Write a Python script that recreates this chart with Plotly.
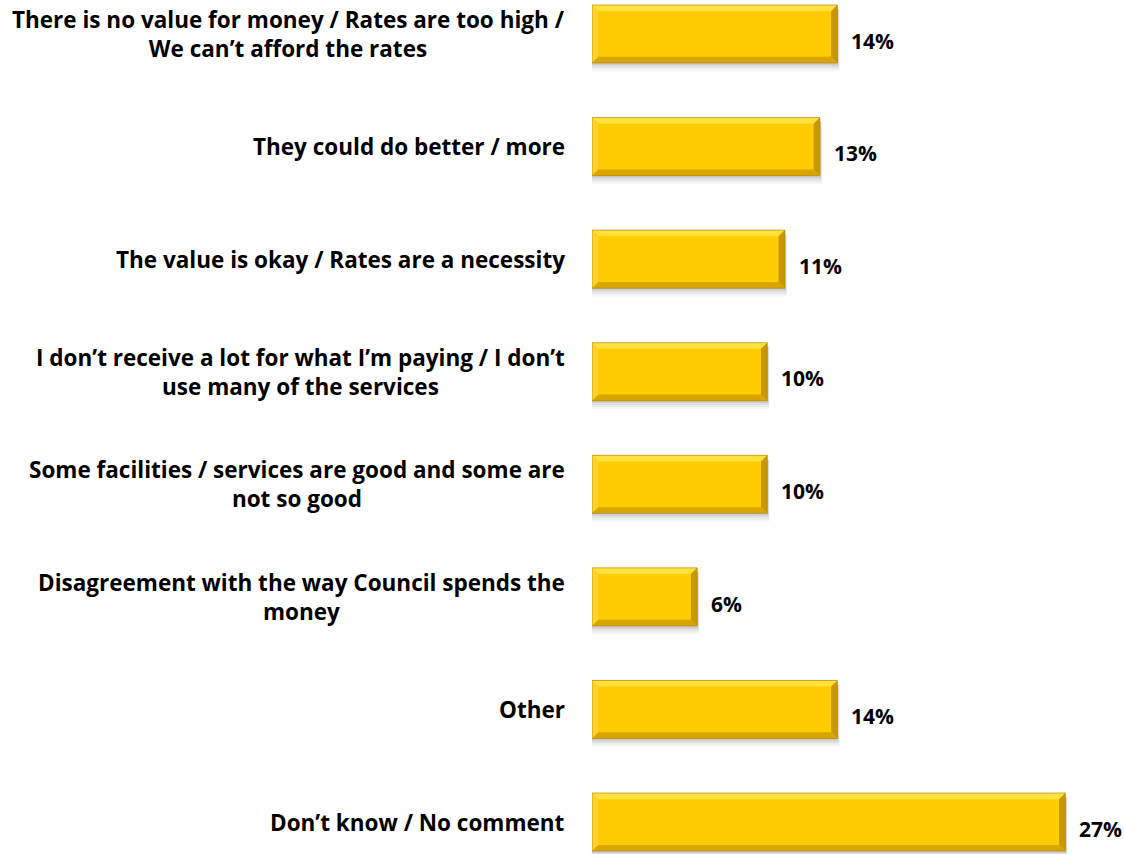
import plotly.graph_objects as go

categories = [
    "There is no value for money / Rates are too high /<br>We can\u2019t afford the rates",
    "They could do better / more",
    "The value is okay / Rates are a necessity",
    "I don\u2019t receive a lot for what I\u2019m paying / I don\u2019t<br>use many of the services",
    "Some facilities / services are good and some are<br>not so good",
    "Disagreement with the way Council spends the<br>money",
    "Other",
    "Don\u2019t know / No comment",
]
values = [14, 13, 11, 10, 10, 6, 14, 27]

FONT = "Open Sans"
BODY = "#FFCC00"
TOP = "#FFE13F"
LEFT = "#FFD42A"
BOTTOM = "#D9A600"
RIGHT = "#C99700"

positions = list(range(len(categories)))
half = 0.258          # half bar thickness in category units
bev_y = 0.055         # bevel depth (vertical)
bev_x = 0.36          # bevel depth (horizontal, in % units)

fig = go.Figure()
fig.add_trace(go.Bar(
    x=values, y=positions, orientation="h", width=2 * half,
    marker=dict(color=BODY, line=dict(width=0)),
    hoverinfo="skip",
))

shapes = []
for y, v in zip(positions, values):
    y0, y1 = y - half, y + half
    # soft drop shadow beneath the bar
    for k, op in enumerate([0.10, 0.08, 0.06, 0.04]):
        d = 0.02 + 0.018 * k
        shapes.append(dict(type="rect", xref="x", yref="y", layer="below",
                           x0=0.0, x1=v + 0.06 + 0.02 * k, y0=y0 + 0.04, y1=y1 + d,
                           fillcolor=f"rgba(60,60,60,{op})", line=dict(width=0)))
    # bevelled edges
    shapes.append(dict(type="path", xref="x", yref="y",
                       path=f"M0,{y0} L{v},{y0} L{v - bev_x},{y0 + bev_y} L{bev_x},{y0 + bev_y} Z",
                       fillcolor=TOP, line=dict(width=0)))
    shapes.append(dict(type="path", xref="x", yref="y",
                       path=f"M0,{y0} L{bev_x},{y0 + bev_y} L{bev_x},{y1 - bev_y} L0,{y1} Z",
                       fillcolor=LEFT, line=dict(width=0)))
    shapes.append(dict(type="path", xref="x", yref="y",
                       path=f"M0,{y1} L{bev_x},{y1 - bev_y} L{v - bev_x},{y1 - bev_y} L{v},{y1} Z",
                       fillcolor=BOTTOM, line=dict(width=0)))
    shapes.append(dict(type="path", xref="x", yref="y",
                       path=f"M{v},{y0} L{v},{y1} L{v - bev_x},{y1 - bev_y} L{v - bev_x},{y0 + bev_y} Z",
                       fillcolor=RIGHT, line=dict(width=0)))
    shapes.append(dict(type="rect", xref="x", yref="y",
                       x0=0, x1=v, y0=y0, y1=y1,
                       fillcolor="rgba(0,0,0,0)", line=dict(color="rgba(170,125,0,0.6)", width=1)))

annotations = []
for y, label, v in zip(positions, categories, values):
    annotations.append(dict(xref="paper", yref="y", x=0, y=y, xshift=-25,
                            text=f"<b>{label}</b>", showarrow=False,
                            xanchor="right", yanchor="middle", align="center",
                            font=dict(family=FONT, size=22.5, color="#000000")))
    annotations.append(dict(xref="x", yref="y", x=v, y=y + 0.06, xshift=13,
                            text=f"<b>{v}%</b>", showarrow=False,
                            xanchor="left", yanchor="middle", borderpad=0,
                            font=dict(family=FONT, size=21, color="#000000")))

fig.update_layout(
    width=1125, height=854,
    margin=dict(l=592, r=0, t=0, b=0),
    paper_bgcolor="white", plot_bgcolor="white",
    showlegend=False,
    shapes=shapes, annotations=annotations,
    xaxis=dict(range=[0, 30.4], visible=False, fixedrange=True),
    yaxis=dict(range=[7.284, -0.302], visible=False, fixedrange=True),
    bargap=0,
)

fig.write_html("out.html")
